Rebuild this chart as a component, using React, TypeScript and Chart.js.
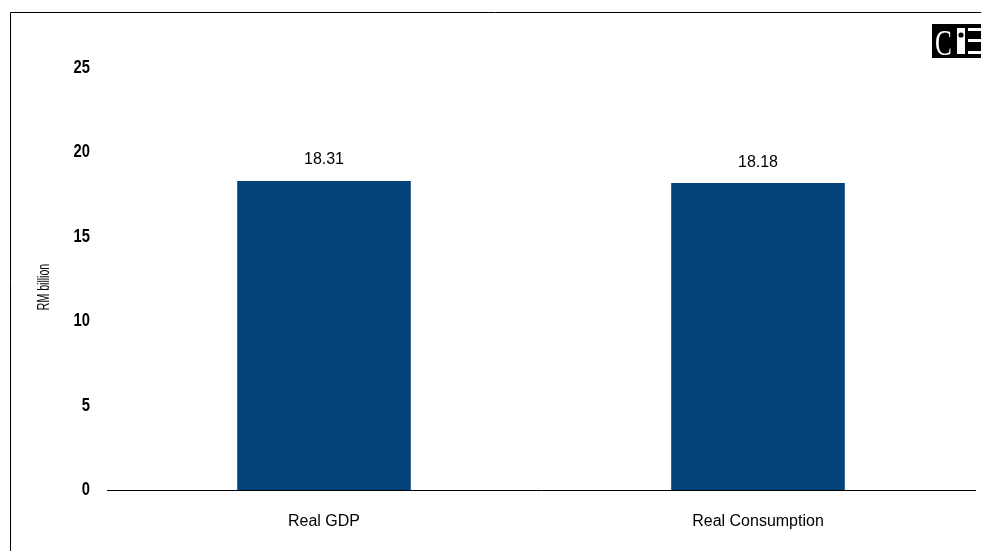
import React, { useEffect, useRef } from "react";
import { Chart, registerables } from "chart.js";

Chart.register(...registerables);

const categories = ["Real GDP", "Real Consumption"];
const values = [18.31, 18.18];
const valueLabels = ["18.31", "18.18"];
const yTicks = [0, 5, 10, 15, 20, 25];
const yTitle = "RM billion";

const BAR_COLOR = "#03437A";
const SANS = "'Liberation Sans', Arial, sans-serif";

// Draws text squeezed horizontally to imitate a condensed face.
function narrowText(ctx: CanvasRenderingContext2D, text: string, x: number, y: number, squeeze: number) {
  ctx.save();
  ctx.translate(x, y);
  ctx.scale(squeeze, 1);
  ctx.fillText(text, 0, 0);
  ctx.restore();
}

const framePlugin = {
  id: "frame",
  beforeDraw(chart: any) {
    const ctx = chart.ctx;
    ctx.save();
    ctx.fillStyle = "#ffffff";
    ctx.fillRect(0, 0, chart.width, chart.height);
    ctx.strokeStyle = "#000000";
    ctx.lineWidth = 1;
    ctx.beginPath();
    ctx.moveTo(10.5, chart.height);
    ctx.lineTo(10.5, 12.5);
    ctx.lineTo(chart.width, 12.5);
    ctx.stroke();
    ctx.restore();
  },
  afterDraw(chart: any) {
    const ctx = chart.ctx;
    const yScale = chart.scales.y;

    // y tick labels in a condensed bold face
    ctx.save();
    ctx.fillStyle = "#000000";
    ctx.font = "bold 18px " + SANS;
    ctx.textAlign = "right";
    ctx.textBaseline = "middle";
    yScale.ticks.forEach((t: any) => {
      const py = yScale.getPixelForValue(t.value);
      narrowText(ctx, String(t.value), 90, py, 0.82);
    });
    ctx.restore();

    // rotated axis title
    ctx.save();
    ctx.fillStyle = "#000000";
    ctx.font = "16px " + SANS;
    ctx.textAlign = "center";
    ctx.textBaseline = "middle";
    ctx.translate(45, (chart.chartArea.top + chart.chartArea.bottom) / 2 + 8);
    ctx.rotate(-Math.PI / 2);
    ctx.scale(0.66, 1);
    ctx.fillText(yTitle, 0, 0);
    ctx.restore();

    // corner badge
    ctx.save();
    const bx = 932, by = 24, bw = 49, bh = 34;
    ctx.fillStyle = "#000000";
    ctx.fillRect(bx, by, bw, bh);
    ctx.fillStyle = "#ffffff";
    ctx.font = "36px 'Liberation Serif', 'DejaVu Serif', serif";
    ctx.textBaseline = "alphabetic";
    narrowText(ctx, "C", bx + 3, by + 31, 0.7);
    ctx.fillRect(bx + 25, by + 4, 8, 26);
    ctx.fillStyle = "#000000";
    ctx.beginPath();
    ctx.arc(bx + 29, by + 11, 2.6, 0, Math.PI * 2);
    ctx.fill();
    ctx.fillStyle = "#ffffff";
    ctx.fillRect(bx + 36, by + 4, 13, 3);
    ctx.fillRect(bx + 36, by + 15, 13, 3);
    ctx.fillRect(bx + 36, by + 27, 13, 3);
    ctx.restore();

    // value labels above bars
    const meta = chart.getDatasetMeta(0);
    ctx.save();
    ctx.fillStyle = "#000000";
    ctx.font = "16px " + SANS;
    ctx.textAlign = "center";
    ctx.textBaseline = "middle";
    meta.data.forEach((bar: any, i: number) => {
      ctx.fillText(valueLabels[i], bar.x, bar.y - 21);
    });
    ctx.restore();
  },
};

export default function App() {
  const ref = useRef<HTMLCanvasElement>(null);

  useEffect(() => {
    if (!ref.current) return;
    const chart = new Chart(ref.current, {
      type: "bar",
      data: {
        labels: categories,
        datasets: [
          {
            data: values,
            backgroundColor: BAR_COLOR,
            categoryPercentage: 1,
            barPercentage: 0.4,
          },
        ],
      },
      options: {
        animation: false,
        responsive: false,
        events: [],
        layout: { padding: { left: 10, right: 6, top: 68, bottom: 0 } },
        plugins: { legend: { display: false }, tooltip: { enabled: false } },
        scales: {
          x: {
            grid: { display: false, drawTicks: false },
            border: { display: true, color: "#000000", width: 1 },
            ticks: {
              color: "#000000",
              font: { family: SANS, size: 16 },
              padding: 22,
            },
            afterFit: (s: any) => {
              s.height = 61;
            },
          },
          y: {
            min: 0,
            max: 25,
            afterBuildTicks: (s: any) => {
              s.ticks = yTicks.map((v) => ({ value: v }));
            },
            grid: { display: false, drawTicks: false },
            border: { display: false },
            ticks: {
              color: "rgba(0,0,0,0)",
              font: { family: SANS, size: 18, weight: "bold" },
              padding: 17,
            },
            afterFit: (s: any) => {
              s.width = 97;
            },
          },
        },
      },
      plugins: [framePlugin],
    });
    return () => chart.destroy();
  }, []);

  return (
    <div style={{ position: "fixed", left: 0, top: 0, width: 981, height: 551, background: "#fff" }}>
      <canvas ref={ref} width={981} height={551} style={{ display: "block" }} />
    </div>
  );
}
